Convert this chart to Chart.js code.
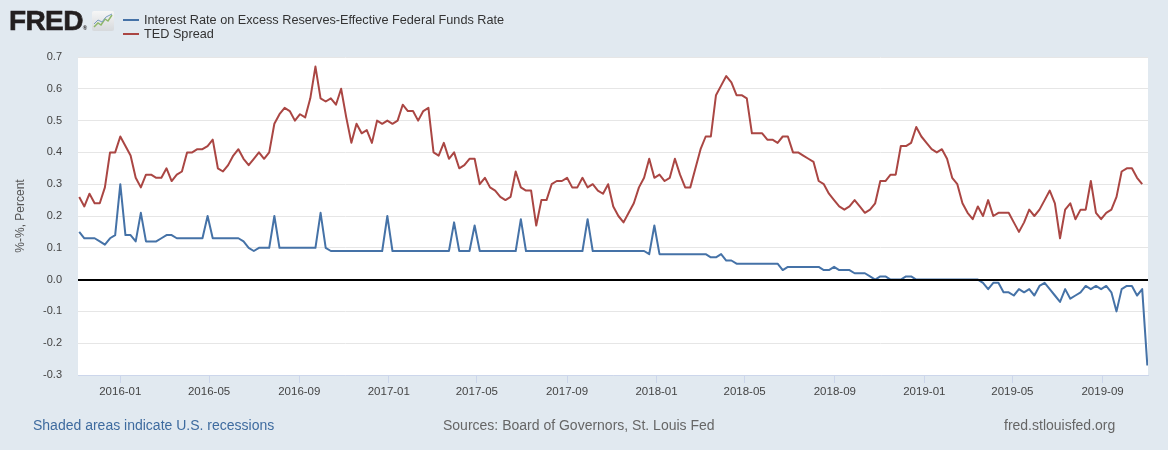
<!DOCTYPE html>
<html>
<head>
<meta charset="utf-8">
<script src="https://cdn.jsdelivr.net/npm/chart.js@4.4.1/dist/chart.umd.min.js"></script>
<style>
body { margin: 0; background: #e1e9f0; font-family: "Liberation Sans", Arial, sans-serif; }
#wrap { position: relative; width: 1168px; height: 450px; overflow: hidden; }
#chart { position: absolute; left: 0; top: 0; }
.logo { position: absolute; left: 9px; top: 6px; font-size: 28px; font-weight: bold; letter-spacing: -0.6px; color: #231f20; line-height: 30px; -webkit-text-stroke: 0.6px #231f20; }
.logo sup { font-size: 6px; letter-spacing: 0; vertical-align: 0; -webkit-text-stroke: 0; }
.icon { position: absolute; left: 92px; top: 11px; width: 22px; height: 20px; border-radius: 2px; background: linear-gradient(#f6f6f6, #d6d9dc); }
.sw { position: absolute; left: 123px; width: 16px; height: 2px; }
.leg { position: absolute; left: 144px; font-size: 12.7px; color: #333; line-height: 14px; white-space: nowrap; }
.foot { position: absolute; top: 417px; font-size: 14px; line-height: 16px; color: #666; white-space: nowrap; }
</style>
</head>
<body>
<div id="wrap">
  <canvas id="chart" width="1168" height="450"></canvas>
  <div class="logo">FRED<sup>&reg;</sup></div>
  <div class="icon">
    <svg width="22" height="20">
      <polyline points="2,16 6,12 9,14 13,8 16,10 20,4" fill="none" stroke="#8fb86a" stroke-width="1.5"/>
      <polyline points="2,13 6,9 10,11 14,6 20,3" fill="none" stroke="#7a9cc0" stroke-width="1"/>
    </svg>
  </div>
  <div class="sw" style="top:19px; background:#4572a7"></div>
  <div class="leg" style="top:13px">Interest Rate on Excess Reserves-Effective Federal Funds Rate</div>
  <div class="sw" style="top:33px; background:#aa4643"></div>
  <div class="leg" style="top:27px">TED Spread</div>
  <div class="foot" style="left:33px; color:#3e6b9f">Shaded areas indicate U.S. recessions</div>
  <div class="foot" style="left:443px">Sources: Board of Governors, St. Louis Fed</div>
  <div class="foot" style="left:1004px">fred.stlouisfed.org</div>
</div>
<script>
var DAY = 24 * 60 * 60 * 1000

// weekly observations, first week ending 2015-11-06
var firstWeek = Date.UTC(2015, 10, 6)

var ioerEffr = [
	0.15, 0.13, 0.13, 0.13, 0.12, 0.11, 0.13, 0.14, 0.30, 0.14,
	0.14, 0.12, 0.21, 0.12, 0.12, 0.12, 0.13, 0.14, 0.14, 0.13,
	0.13, 0.13, 0.13, 0.13, 0.13, 0.20, 0.13, 0.13, 0.13, 0.13,
	0.13, 0.13, 0.12, 0.10, 0.09, 0.10, 0.10, 0.10, 0.20, 0.10,
	0.10, 0.10, 0.10, 0.10, 0.10, 0.10, 0.10, 0.21, 0.10, 0.09,
	0.09, 0.09, 0.09, 0.09, 0.09, 0.09, 0.09, 0.09, 0.09, 0.09,
	0.20, 0.09, 0.09, 0.09, 0.09, 0.09, 0.09, 0.09, 0.09, 0.09,
	0.09, 0.09, 0.09, 0.18, 0.09, 0.09, 0.09, 0.17, 0.09, 0.09,
	0.09, 0.09, 0.09, 0.09, 0.09, 0.09, 0.19, 0.09, 0.09, 0.09,
	0.09, 0.09, 0.09, 0.09, 0.09, 0.09, 0.09, 0.09, 0.09, 0.19,
	0.09, 0.09, 0.09, 0.09, 0.09, 0.09, 0.09, 0.09, 0.09, 0.09,
	0.09, 0.08, 0.17, 0.08, 0.08, 0.08, 0.08, 0.08, 0.08, 0.08,
	0.08, 0.08, 0.08, 0.07, 0.07, 0.08, 0.06, 0.06, 0.05, 0.05,
	0.05, 0.05, 0.05, 0.05, 0.05, 0.05, 0.05, 0.03, 0.04, 0.04,
	0.04, 0.04, 0.04, 0.04, 0.04, 0.03, 0.03, 0.04, 0.03, 0.03,
	0.03, 0.02, 0.02, 0.02, 0.01, 0.00, 0.01, 0.01, 0.00, 0.00,
	0.00, 0.01, 0.01, 0.00, 0.00, 0.00, 0.00, 0.00, 0.00, 0.00,
	0.00, 0.00, 0.00, 0.00, 0.00, 0.00, -0.01, -0.03, -0.01, -0.01,
	-0.04, -0.04, -0.05, -0.03, -0.04, -0.03, -0.05, -0.02, -0.01, -0.03,
	-0.05, -0.07, -0.03, -0.06, -0.05, -0.04, -0.02, -0.03, -0.02, -0.03,
	-0.02, -0.04, -0.10, -0.03, -0.02, -0.02, -0.05, -0.03, -0.27
]

var tedSpread = [
	0.26, 0.23, 0.27, 0.24, 0.24, 0.29, 0.40, 0.40, 0.45, 0.42,
	0.39, 0.32, 0.29, 0.33, 0.33, 0.32, 0.32, 0.35, 0.31, 0.33,
	0.34, 0.40, 0.40, 0.41, 0.41, 0.42, 0.44, 0.35, 0.34, 0.36,
	0.39, 0.41, 0.38, 0.36, 0.38, 0.40, 0.38, 0.40, 0.49, 0.52,
	0.54, 0.53, 0.50, 0.52, 0.51, 0.57, 0.67, 0.57, 0.56, 0.57,
	0.55, 0.60, 0.51, 0.43, 0.49, 0.46, 0.47, 0.43, 0.50, 0.49,
	0.50, 0.49, 0.50, 0.55, 0.53, 0.53, 0.50, 0.53, 0.54, 0.40,
	0.39, 0.43, 0.38, 0.40, 0.35, 0.36, 0.38, 0.38, 0.30, 0.32,
	0.29, 0.28, 0.26, 0.25, 0.26, 0.34, 0.29, 0.28, 0.28, 0.17,
	0.25, 0.25, 0.30, 0.31, 0.31, 0.32, 0.29, 0.29, 0.32, 0.29,
	0.30, 0.28, 0.27, 0.30, 0.23, 0.20, 0.18, 0.21, 0.24, 0.29,
	0.32, 0.38, 0.32, 0.33, 0.31, 0.32, 0.38, 0.33, 0.29, 0.29,
	0.35, 0.41, 0.45, 0.45, 0.58, 0.61, 0.64, 0.62, 0.58, 0.58,
	0.57, 0.46, 0.46, 0.46, 0.44, 0.44, 0.43, 0.45, 0.45, 0.40,
	0.40, 0.39, 0.38, 0.37, 0.31, 0.30, 0.27, 0.25, 0.23, 0.22,
	0.23, 0.25, 0.23, 0.21, 0.22, 0.24, 0.31, 0.31, 0.33, 0.33,
	0.42, 0.42, 0.43, 0.48, 0.45, 0.43, 0.41, 0.40, 0.41, 0.38,
	0.32, 0.30, 0.24, 0.21, 0.19, 0.23, 0.20, 0.25, 0.20, 0.21,
	0.21, 0.21, 0.18, 0.15, 0.18, 0.22, 0.20, 0.22, 0.25, 0.28,
	0.24, 0.13, 0.22, 0.24, 0.19, 0.22, 0.22, 0.31, 0.21, 0.19,
	0.21, 0.22, 0.26, 0.34, 0.35, 0.35, 0.32, 0.30
]

var tickLabels = ["2016-01", "2016-05", "2016-09", "2017-01", "2017-05", "2017-09",
	"2018-01", "2018-05", "2018-09", "2019-01", "2019-05", "2019-09"]

var xStart = Date.UTC(2015, 10, 4, 8)
var xEnd = Date.UTC(2019, 10, 1, 22)

function weekly(values) {
	var pts = []
	for (var i = 0; i < values.length; i++) {
		pts.push({x: firstWeek + i * 7 * DAY, y: values[i]})
	}
	return pts
}

function labelTime(label) {
	var parts = label.split("-")
	return Date.UTC(+parts[0], +parts[1] - 1, 1)
}

function monthLabel(v) {
	var d = new Date(v)
	var m = d.getUTCMonth() + 1
	return d.getUTCFullYear() + "-" + (m < 10 ? "0" + m : m)
}

var plotBackground = {
	id: "plotBackground",
	beforeDraw: function(chart) {
		var a = chart.chartArea
		var ctx = chart.ctx
		ctx.save()
		ctx.fillStyle = "#ffffff"
		ctx.fillRect(a.left, a.top, a.right - a.left, a.bottom - a.top)
		ctx.restore()
	}
}

var zeroLine = {
	id: "zeroLine",
	afterDatasetsDraw: function(chart) {
		var a = chart.chartArea
		var y = Math.round(chart.scales.y.getPixelForValue(0))
		var ctx = chart.ctx
		ctx.save()
		ctx.strokeStyle = "#000000"
		ctx.lineWidth = 2
		ctx.beginPath()
		ctx.moveTo(a.left, y)
		ctx.lineTo(a.right, y)
		ctx.stroke()
		ctx.restore()
	}
}

var ctx = document.getElementById("chart").getContext("2d")
var chart = new Chart(ctx, {
	type: "line",
	data: {
		datasets: [
			{
				label: "Interest Rate on Excess Reserves-Effective Federal Funds Rate",
				data: weekly(ioerEffr),
				borderColor: "#4572a7",
				borderWidth: 2
			},
			{
				label: "TED Spread",
				data: weekly(tedSpread),
				borderColor: "#aa4643",
				borderWidth: 2
			}
		]
	},
	options: {
		responsive: false,
		devicePixelRatio: 1,
		animation: false,
		layout: {padding: {top: 57, right: 20, bottom: 35, left: 0}},
		elements: {
			point: {radius: 0},
			line: {tension: 0, borderJoinStyle: "round"}
		},
		plugins: {
			legend: {display: false},
			tooltip: {enabled: false}
		},
		scales: {
			x: {
				type: "linear",
				min: xStart,
				max: xEnd,
				afterBuildTicks: function(scale) {
					scale.ticks = tickLabels.map(function(l) { return {value: labelTime(l)} })
				},
				afterFit: function(scale) { scale.height = 40 },
				ticks: {
					autoSkip: false,
					maxRotation: 0,
					padding: 2,
					color: "#444",
					font: {family: "Liberation Sans", size: 11.5},
					callback: function(v) { return monthLabel(v) }
				},
				grid: {
					drawOnChartArea: false,
					drawTicks: true,
					tickLength: 8,
					color: "#ccd6eb"
				},
				border: {color: "#ccd6eb"}
			},
			y: {
				min: -0.3,
				max: 0.7,
				afterFit: function(scale) { scale.width = 78 },
				ticks: {
					stepSize: 0.1,
					padding: 16,
					color: "#444",
					font: {family: "Liberation Sans", size: 11},
					callback: function(v) { return (Math.round(v * 10) / 10).toFixed(1) }
				},
				grid: {color: "#e6e6e6", drawTicks: false},
				border: {display: false},
				title: {
					display: true,
					text: "%-%, Percent",
					color: "#555",
					padding: {top: 13, bottom: 0},
					font: {family: "Liberation Sans", size: 12}
				}
			}
		}
	},
	plugins: [plotBackground, zeroLine]
})
</script>
</body>
</html>
